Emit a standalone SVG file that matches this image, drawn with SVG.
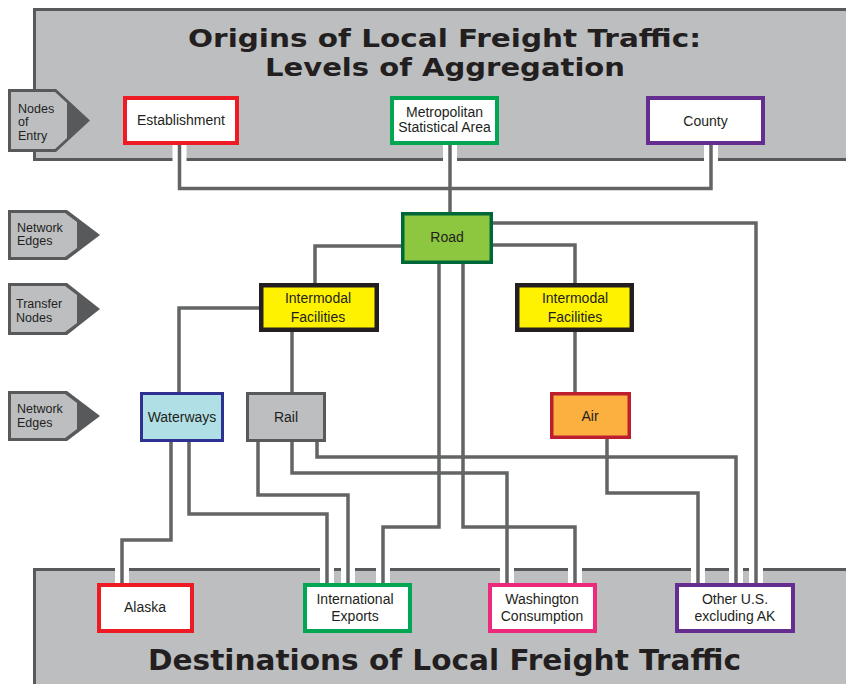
<svg xmlns="http://www.w3.org/2000/svg" width="846" height="684" viewBox="0 0 846 684">
<style>
.panel{fill:#bcbec0;stroke:#58595b;stroke-width:3}
.title{font-family:"DejaVu Sans",sans-serif;font-weight:bold;fill:#231f20;text-anchor:middle}
.t{font-family:"Liberation Sans",Arial,sans-serif;font-size:14px;fill:#231f20;text-anchor:middle}
.lt{font-family:"Liberation Sans",Arial,sans-serif;font-size:12.5px;fill:#231f20}
.adark{fill:#58595b}
.alight{fill:#bcbec0}
.case{fill:none;stroke:#ffffff;stroke-width:14;stroke-linejoin:miter}
.ln{fill:none;stroke:#636466;stroke-width:3.5;stroke-linejoin:miter}
.n{stroke-width:4}
</style>
<rect width="846" height="684" fill="#ffffff"/>
<g id="top-panel">
<rect class="panel" x="34.5" y="9.5" width="900" height="150"/>
<text class="title" x="444.5" y="47" font-size="25" textLength="513" lengthAdjust="spacingAndGlyphs">Origins of Local Freight Traffic:</text>
<text class="title" x="445" y="75.5" font-size="25" textLength="360" lengthAdjust="spacingAndGlyphs">Levels of Aggregation</text>
</g>
<g id="bottom-panel">
<rect class="panel" x="34.5" y="569.5" width="900" height="200"/>
<text class="title" x="444.5" y="670" font-size="27.5" textLength="593" lengthAdjust="spacingAndGlyphs">Destinations of Local Freight Traffic</text>
</g>
<g id="connectors">
<g class="case">
<path d="M179.5,145 V188.5 H711 V145"/>
<path d="M450,145 V213"/>
<path d="M402,246 H315 V283"/>
<path d="M493,223 H756 V583"/>
<path d="M493,245 H575 V283"/>
<path d="M439,264 V527 H383 V583"/>
<path d="M463,264 V527 H575 V583"/>
<path d="M259,308 H179 V393"/>
<path d="M292,332 V393"/>
<path d="M575,332 V393"/>
<path d="M171,442 V540 H122 V583"/>
<path d="M189,442 V514 H327 V583"/>
<path d="M258,442 V495 H348 V583"/>
<path d="M292,442 V473 H507 V583"/>
<path d="M317,442 V457 H736 V583"/>
<path d="M607,439 V493 H698 V583"/>
</g>
<g class="ln">
<path d="M179.5,145 V188.5 H711 V145"/>
<path d="M450,145 V213"/>
<path d="M402,246 H315 V283"/>
<path d="M493,223 H756 V583"/>
<path d="M493,245 H575 V283"/>
<path d="M439,264 V527 H383 V583"/>
<path d="M463,264 V527 H575 V583"/>
<path d="M259,308 H179 V393"/>
<path d="M292,332 V393"/>
<path d="M575,332 V393"/>
<path d="M171,442 V540 H122 V583"/>
<path d="M189,442 V514 H327 V583"/>
<path d="M258,442 V495 H348 V583"/>
<path d="M292,442 V473 H507 V583"/>
<path d="M317,442 V457 H736 V583"/>
<path d="M607,439 V493 H698 V583"/>
</g>
</g>
<g id="label-nodes-of-entry">
<path class="adark" d="M8,89 H56 L90,120.5 L56,152 H8 Z"/>
<path class="alight" d="M11,92 H55 L67,103 V138 L55,149 H11 Z"/>
<text class="lt" x="18" y="112.5">Nodes</text>
<text class="lt" x="18" y="126">of</text>
<text class="lt" x="18" y="139.5">Entry</text>
</g>
<g id="label-network-edges-1">
<path class="adark" d="M8,210 H67 L100,235 L67,260 H8 Z"/>
<path class="alight" d="M11,213 H65 L77,222 V248 L65,257 H11 Z"/>
<text class="lt" x="17" y="231.5">Network</text>
<text class="lt" x="17" y="245">Edges</text>
</g>
<g id="label-transfer-nodes">
<path class="adark" d="M8,283 H67 L100,309 L67,335 H8 Z"/>
<path class="alight" d="M11,286 H65 L77,295 V323 L65,332 H11 Z"/>
<text class="lt" x="16" y="307.5">Transfer</text>
<text class="lt" x="16" y="321.5">Nodes</text>
</g>
<g id="label-network-edges-2">
<path class="adark" d="M8,391 H67 L100,416 L67,441 H8 Z"/>
<path class="alight" d="M11,394 H65 L77,403 V429 L65,438 H11 Z"/>
<text class="lt" x="17" y="412.5">Network</text>
<text class="lt" x="17" y="426.5">Edges</text>
</g>
<g id="node-establishment">
<rect class="n" x="125" y="98" width="112" height="45" fill="#ffffff" stroke="#ed1c24"/>
<text class="t" x="181" y="125">Establishment</text>
</g>
<g id="node-msa">
<rect class="n" x="392" y="98" width="105" height="45" fill="#ffffff" stroke="#00a651"/>
<text class="t" x="444.5" y="117">Metropolitan</text>
<text class="t" x="444.5" y="132">Statistical Area</text>
</g>
<g id="node-county">
<rect class="n" x="648" y="98" width="115" height="45" fill="#ffffff" stroke="#662d91"/>
<text class="t" x="705.5" y="126">County</text>
</g>
<g id="node-road">
<rect x="402.75" y="213.75" width="88.5" height="48.5" fill="#8dc63f" stroke="#006838" stroke-width="3.5"/>
<text class="t" x="447" y="242">Road</text>
</g>
<g id="node-intermodal-left">
<rect x="261.25" y="285.25" width="115.5" height="44.5" fill="#fff200" stroke="#231f20" stroke-width="4.5"/>
<text class="t" x="318" y="303">Intermodal</text>
<text class="t" x="318" y="322">Facilities</text>
</g>
<g id="node-intermodal-right">
<rect x="517.25" y="285.25" width="114.5" height="44.5" fill="#fff200" stroke="#231f20" stroke-width="4.5"/>
<text class="t" x="575" y="303">Intermodal</text>
<text class="t" x="575" y="322">Facilities</text>
</g>
<g id="node-waterways">
<rect x="141.5" y="393.5" width="81" height="47" fill="#b0dfe5" stroke="#2e3192" stroke-width="3"/>
<text class="t" x="182" y="422">Waterways</text>
</g>
<g id="node-rail">
<rect x="247.5" y="393.5" width="77" height="47" fill="#bcbec0" stroke="#58595b" stroke-width="3"/>
<text class="t" x="286" y="422">Rail</text>
</g>
<g id="node-air">
<rect x="551.75" y="393.75" width="77.5" height="43.5" fill="#fbb040" stroke="#be1e2d" stroke-width="3.5"/>
<text class="t" x="590" y="421">Air</text>
</g>
<g id="node-alaska">
<rect class="n" x="99" y="585" width="93" height="46" fill="#ffffff" stroke="#ed1c24"/>
<text class="t" x="145" y="612">Alaska</text>
</g>
<g id="node-international-exports">
<rect class="n" x="305" y="585" width="105" height="46" fill="#ffffff" stroke="#00a651"/>
<text class="t" x="355" y="604">International</text>
<text class="t" x="355" y="621">Exports</text>
</g>
<g id="node-washington-consumption">
<rect class="n" x="490" y="585" width="105" height="46" fill="#ffffff" stroke="#ec297b"/>
<text class="t" x="542" y="604">Washington</text>
<text class="t" x="542" y="621">Consumption</text>
</g>
<g id="node-other-us">
<rect class="n" x="677" y="585" width="116" height="46" fill="#ffffff" stroke="#662d91"/>
<text class="t" x="735" y="604">Other U.S.</text>
<text class="t" x="735" y="621">excluding AK</text>
</g>
</svg>
